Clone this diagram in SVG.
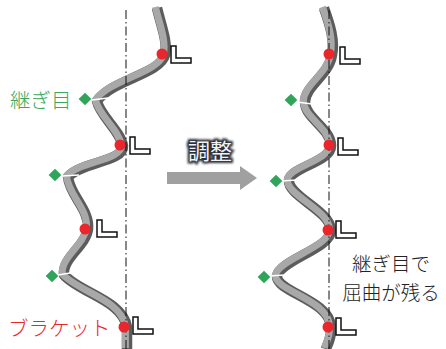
<svg xmlns="http://www.w3.org/2000/svg" width="446" height="349" viewBox="0 0 446 349">
  <style>
    .pipe-dark { fill: none; stroke: #5c5c5c; stroke-width: 10.5; stroke-linejoin: round; }
    .pipe-light { fill: none; stroke: #a8a8a8; stroke-width: 7; stroke-linejoin: round; }
    .axis { fill: none; stroke: #111; stroke-width: 1; stroke-dasharray: 9 3 1.5 3; }
    .joint-gap { stroke: #fff; stroke-width: 1.6; }
    .joint-mark { fill: #2fa55a; }
    .bracket-pt { fill: #e8262b; }
    .bracket { fill: #fff; stroke: #111; stroke-width: 1.5; stroke-linejoin: miter; }
    .label { font-family: "Noto Sans CJK JP", "Noto Sans", sans-serif; font-size: 20.5px; font-weight: 300; }
  </style>
  <defs>
    <polygon id="bracketL" class="bracket" points="0,0 5,0 5,12 20,12 20,17 0,17"/>
    <rect id="diamond" class="joint-mark" x="-4.5" y="-4.5" width="9" height="9" transform="rotate(45)"/>
    <filter id="halo" x="-20%" y="-30%" width="140%" height="160%">
      <feGaussianBlur stdDeviation="1.3"/>
    </filter>
  </defs>

  <!-- pipe before adjustment -->
  <g id="pipe-before">
    <path class="pipe-dark" d="M157,8 C161,25 168,42 165,55 C160,74 112,80 97,101 C100,116 120,130 123,146 C124,162 80,162 68,177 C70,196 90,210 88,229 C86,246 62,258 64,275 C80,293 122,300 127,327 L127,349"/>
    <path class="pipe-light" transform="translate(-1.6,-1)" d="M157,8 C161,25 168,42 165,55 C160,74 112,80 97,101 C100,116 120,130 123,146 C124,162 80,162 68,177 C70,196 90,210 88,229 C86,246 62,258 64,275 C80,293 122,300 127,327 L127,349"/>
  </g>

  <!-- pipe after adjustment -->
  <g id="pipe-after">
    <path class="pipe-dark" d="M324,8 C330,25 335,40 332,55 C329,75 305,86 305,102 C305,118 330,128 331,145 C332,162 291,167 289,180 C287,196 330,210 331,230 C332,248 280,260 277,276 C276,292 330,300 331,327 C332,338 327,345 326,349"/>
    <path class="pipe-light" transform="translate(-1.6,-1)" d="M324,8 C330,25 335,40 332,55 C329,75 305,86 305,102 C305,118 330,128 331,145 C332,162 291,167 289,180 C287,196 330,210 331,230 C332,248 280,260 277,276 C276,292 330,300 331,327 C332,338 327,345 326,349"/>
  </g>

  <!-- connectors: centre lines and joint gaps -->
  <g id="connectors">
    <line class="axis" x1="126" y1="10" x2="126" y2="349"/>
    <line class="axis" x1="329" y1="10" x2="329" y2="349"/>
    <line class="joint-gap" x1="92" y1="100" x2="108" y2="98"/>
    <line class="joint-gap" x1="62" y1="176" x2="79" y2="175"/>
    <line class="joint-gap" x1="58" y1="275" x2="76" y2="272"/>
    <line class="joint-gap" x1="297" y1="102" x2="312" y2="104"/>
    <line class="joint-gap" x1="281" y1="181" x2="297" y2="180"/>
    <line class="joint-gap" x1="269" y1="276" x2="285" y2="275"/>
  </g>

  <!-- joints (left) -->
  <g id="joint-a1"><use href="#diamond" x="85" y="99"/></g>
  <g id="joint-a2"><use href="#diamond" x="55" y="175"/></g>
  <g id="joint-a3"><use href="#diamond" x="52" y="276"/></g>
  <!-- joints (right) -->
  <g id="joint-b1"><use href="#diamond" x="291" y="100"/></g>
  <g id="joint-b2"><use href="#diamond" x="276" y="181"/></g>
  <g id="joint-b3"><use href="#diamond" x="264" y="277"/></g>

  <!-- brackets (left) -->
  <g id="bracket-a1"><circle class="bracket-pt" cx="162" cy="54" r="5.5"/><use href="#bracketL" x="171" y="46"/></g>
  <g id="bracket-a2"><circle class="bracket-pt" cx="120" cy="145" r="5.5"/><use href="#bracketL" x="130" y="137"/></g>
  <g id="bracket-a3"><circle class="bracket-pt" cx="85" cy="229" r="5.5"/><use href="#bracketL" x="97" y="220"/></g>
  <g id="bracket-a4"><circle class="bracket-pt" cx="124" cy="327" r="5.5"/><use href="#bracketL" x="133" y="317"/></g>
  <!-- brackets (right) -->
  <g id="bracket-b1"><circle class="bracket-pt" cx="329" cy="54" r="5.5"/><use href="#bracketL" x="340" y="47"/></g>
  <g id="bracket-b2"><circle class="bracket-pt" cx="329" cy="145" r="5.5"/><use href="#bracketL" x="338" y="138"/></g>
  <g id="bracket-b3"><circle class="bracket-pt" cx="328" cy="230" r="5.5"/><use href="#bracketL" x="336" y="221"/></g>
  <g id="bracket-b4"><circle class="bracket-pt" cx="328" cy="327" r="5.5"/><use href="#bracketL" x="336" y="318"/></g>

  <!-- adjustment arrow -->
  <g id="arrow">
    <polygon fill="#a0a0a0" points="167,172 240,172 240,166 257,178 240,190 240,184 167,184"/>
    <text class="label" x="210" y="159" text-anchor="middle" fill="#2a2f3a" stroke="#2a2f3a" stroke-width="4" filter="url(#halo)" style="font-size:22px;font-weight:400">調整</text>
    <text class="label" x="210" y="159" text-anchor="middle" fill="#f2f2f2" style="font-size:22px;font-weight:400">調整</text>
  </g>

  <!-- labels -->
  <g id="label-joint"><text class="label" x="10" y="108" fill="#3aa75c">継ぎ目</text></g>
  <g id="label-bracket"><text class="label" x="8" y="336" fill="#e8262b">ブラケット</text></g>
  <g id="label-note">
    <text class="label" x="391" y="271" text-anchor="middle" fill="#222" style="font-size:19.5px">継ぎ目で</text>
    <text class="label" x="391" y="300" text-anchor="middle" fill="#222" style="font-size:19.5px">屈曲が残る</text>
  </g>
</svg>
